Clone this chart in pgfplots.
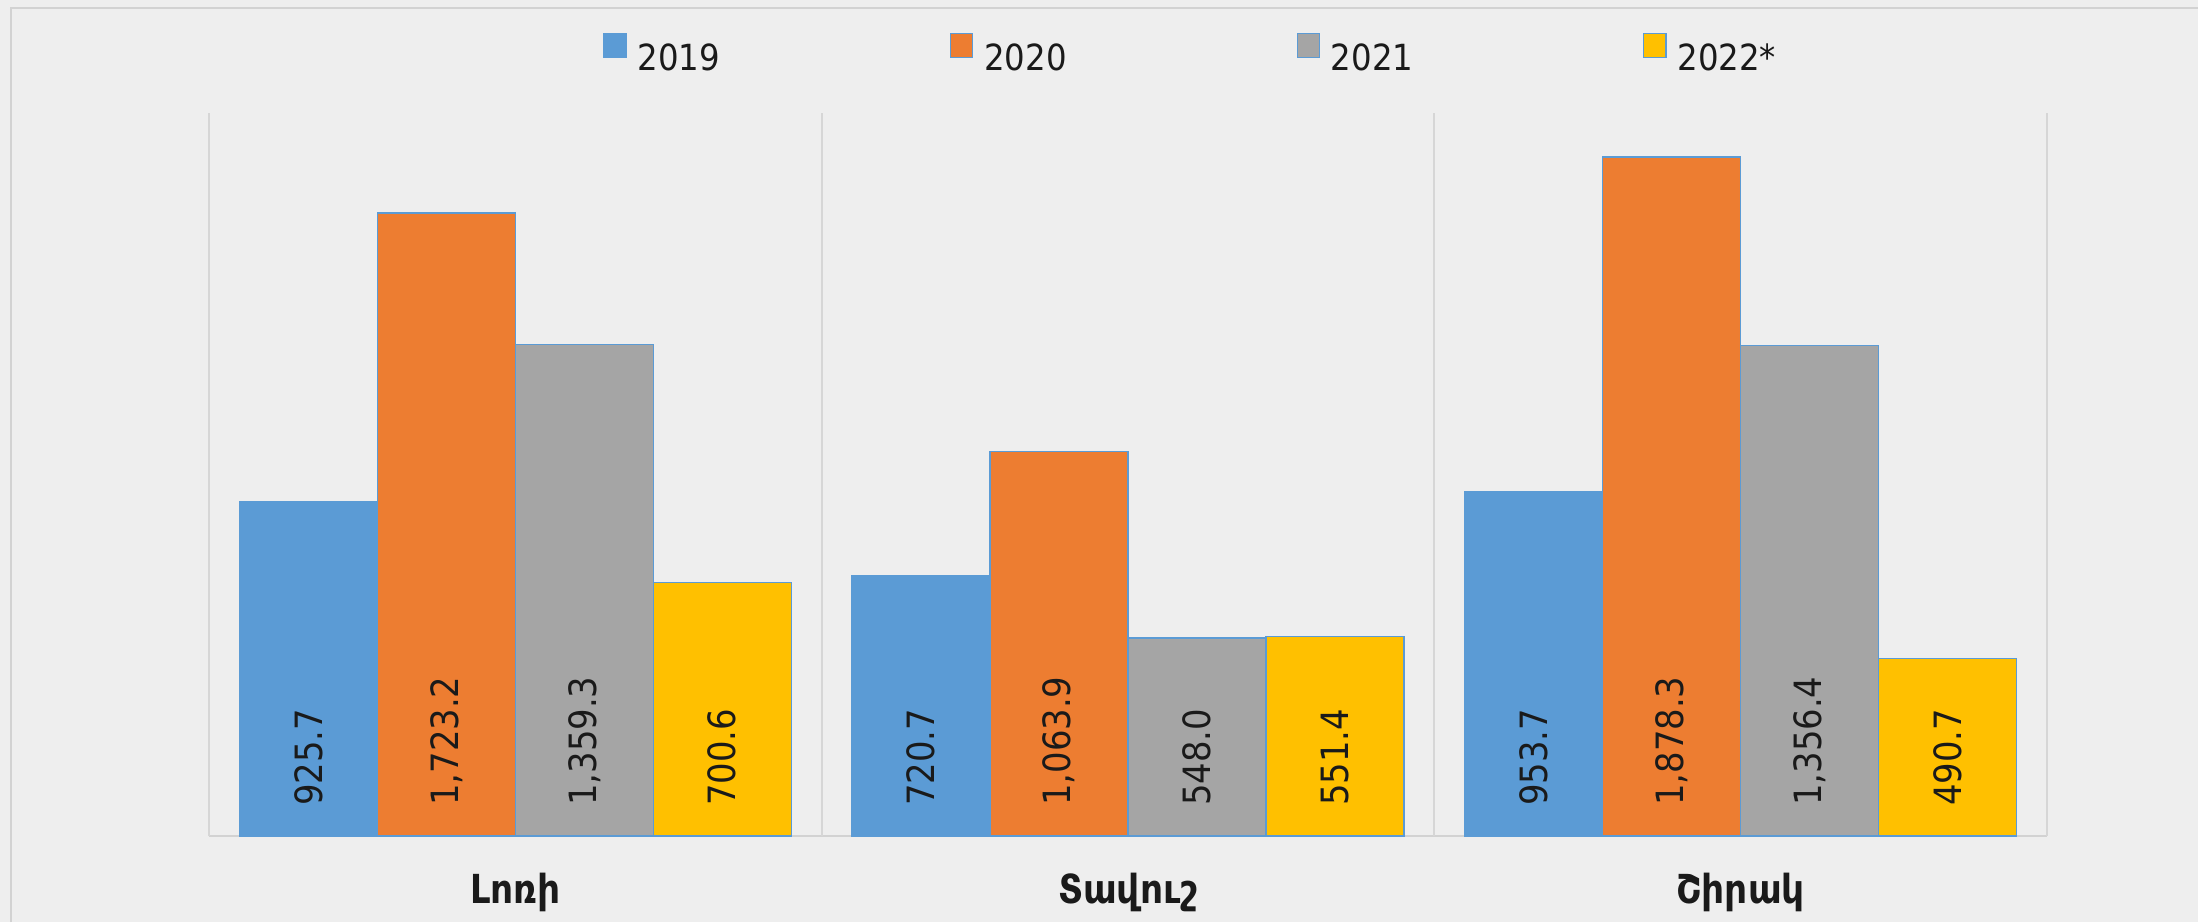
\documentclass[border=0pt]{standalone}
\usepackage{fontspec}
\setmainfont{DejaVu Sans Condensed}
\usepackage{pgfplots}
\usepackage{pgfplotstable}
\pgfplotsset{compat=1.18}
\definecolor{c19}{HTML}{5B9BD5}
\definecolor{c20}{HTML}{ED7D31}
\definecolor{c21}{HTML}{A5A5A5}
\definecolor{c22}{HTML}{FFC000}
\definecolor{bg}{HTML}{EEEEEE}
\definecolor{gridc}{HTML}{D6D6D6}
\definecolor{framec}{HTML}{D2D2D2}
\definecolor{txt}{HTML}{1A1A1A}

\pgfplotstableread{
x y
0 925.7
1 720.7
2 953.7
}\dA
\pgfplotstableread{
x y
0 1723.2
1 1063.9
2 1878.3
}\dB
\pgfplotstableread{
x y
0 1359.3
1 548.0
2 1356.4
}\dC
\pgfplotstableread{
x y
0 700.6
1 551.4
2 490.7
}\dD

\pgfplotsset{
  myleg/.style={legend image code/.code={\draw[##1, draw=c19, line width=0.6pt] (0pt,0.5pt) rectangle (11pt,12.5pt);}},
  lab/.style={forget plot, draw=none, fill=none, bar shift=#1,
    nodes near coords={\pgfmathprintnumber[fixed, fixed zerofill, precision=1, 1000 sep={,}, assume math mode=true]{\pgfplotspointmeta}},
    point meta=explicit,
    every node near coord/.append style={rotate=90, anchor=west, inner xsep=0pt, text=txt, font=\fontsize{18.8}{22}\selectfont}},
}

\begin{document}
\begin{tikzpicture}
\path[use as bounding box, fill=bg] (0,0) rectangle (1099pt,461pt);
\draw[framec, line width=1pt] (5.5pt,0) -- (5.5pt,457pt) -- (1099pt,457pt);
\begin{axis}[
  at={(104.5pt,43pt)}, anchor=south west,
  scale only axis, width=919pt, height=361.5pt,
  xmin=-0.5, xmax=2.5, ymin=0, ymax=2000,
  axis x line*=bottom, hide y axis,
  x axis line style={draw=framec, line width=1pt},
  xtick={0,1,2}, xticklabels={Լոռի,Տավուշ,Շիրակ},
  major tick length=0pt,
  extra x ticks={-0.5,0.5,1.5,2.5}, extra x tick labels={},
  extra x tick style={grid=major, major grid style={draw=gridc, line width=1pt}},
  xticklabel style={font=\bfseries\fontsize{20}{24}\selectfont, text=txt, anchor=center, yshift=-28pt},
  ybar, bar width=0.2252,
  legend style={at={(0.2144,1.083)}, anchor=west, draw=none, fill=none, inner sep=0pt,
    legend columns=4, font=\fontsize{18}{22}\selectfont, text=txt,
    /tikz/every odd column/.append style={column sep=5.5pt},
    /tikz/every even column/.append style={column sep=115pt},
    nodes={inner sep=0pt}},
]
\addplot[fill=c19, draw=c19, line width=0.6pt, bar shift=-0.3378, myleg] table[x=x,y=y] {\dA};
\addplot[fill=c20, draw=c19, line width=0.6pt, bar shift=-0.1126, myleg] table[x=x,y=y] {\dB};
\addplot[fill=c21, draw=c19, line width=0.6pt, bar shift=0.1126, myleg] table[x=x,y=y] {\dC};
\addplot[fill=c22, draw=c19, line width=0.6pt, bar shift=0.3378, myleg] table[x=x,y=y] {\dD};
\legend{2019,2020,2021,2022*}
\addplot[lab=-0.3378] table[x=x, y expr=83, meta=y] {\dA};
\addplot[lab=-0.1126] table[x=x, y expr=83, meta=y] {\dB};
\addplot[lab=0.1126] table[x=x, y expr=83, meta=y] {\dC};
\addplot[lab=0.3378] table[x=x, y expr=83, meta=y] {\dD};
\end{axis}
\end{tikzpicture}
\end{document}
